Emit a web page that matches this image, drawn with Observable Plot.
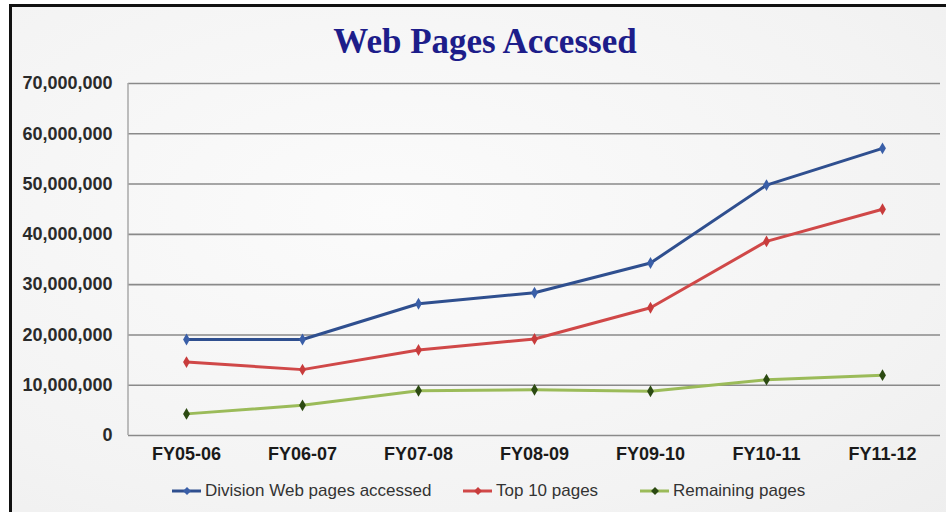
<!DOCTYPE html>
<html>
<head>
<meta charset="utf-8">
<script src="https://cdn.jsdelivr.net/npm/d3@7"></script>
<script src="https://cdn.jsdelivr.net/npm/@observablehq/plot@0.6"></script>
<style>
  html, body { margin: 0; padding: 0; background: #ffffff; }
  #wrap { position: relative; width: 946px; height: 512px; overflow: hidden; background: #ffffff; }
  #panel { position: absolute; left: 9px; top: 4px; width: 940px; height: 512px;
           border-left: 3px solid #111; border-top: 3px solid #111;
           background: radial-gradient(ellipse at 40% 40%, #fbfbfb 0%, #f3f3f3 70%, #eeeeee 100%); }
  #title { position: absolute; left: 0; width: 970px; top: 22px; text-align: center;
           font-family: "Liberation Serif", "Times New Roman", serif; font-weight: bold;
           font-size: 35px; color: #1d1d8a; }
  #chart { position: absolute; left: 0; top: 0; }
  #legend { position: absolute; top: 481px; left: 0; width: 946px; height: 22px;
            font-family: "Liberation Sans", Arial, sans-serif; font-size: 17px; color: #333; }
  .item { position: absolute; display: flex; align-items: center; white-space: nowrap; }
  .item svg { margin-right: 3px; }
</style>
</head>
<body>
<div id="wrap">
  <div id="panel"></div>
  <div id="chart"></div>
  <div id="title">Web Pages Accessed</div>
  <div id="legend"></div>
</div>
<script>
const categories = ["FY05-06", "FY06-07", "FY07-08", "FY08-09", "FY09-10", "FY10-11", "FY11-12"];
const division = [19100000, 19100000, 26200000, 28400000, 34300000, 49800000, 57100000];
const top10 = [14600000, 13100000, 17000000, 19200000, 25400000, 38600000, 45000000];
const remaining = [4300000, 6000000, 8900000, 9100000, 8800000, 11100000, 12000000];
const seriesNames = ["Division Web pages accessed", "Top 10 pages", "Remaining pages"];
const seriesColors = ["#2f4f8f", "#d04848", "#9bbb59"];
const markerColors = ["#3a5fa8", "#c83c3c", "#2c4a12"];
const yTicks = [0, 10000000, 20000000, 30000000, 40000000, 50000000, 60000000, 70000000];

const seriesValues = [division, top10, remaining];
const rows = [];
seriesNames.forEach((name, s) => {
  categories.forEach((c, i) => rows.push({series: name, cat: c, value: seriesValues[s][i]}));
});

const fmt = d3.format(",");

const leftLine = (index, scales, values, dims) => {
  const g = d3.create("svg:line")
    .attr("x1", dims.marginLeft).attr("x2", dims.marginLeft)
    .attr("y1", dims.marginTop).attr("y2", dims.height - dims.marginBottom)
    .attr("stroke", "#a8a8a8").attr("stroke-width", 1.5);
  return g.node();
};

const chart = Plot.plot({
  width: 946,
  height: 470,
  marginLeft: 128,
  marginRight: 6,
  marginTop: 83,
  marginBottom: 35,
  style: { background: "transparent", fontFamily: "Liberation Sans, Arial, sans-serif" },
  x: { type: "point", domain: categories, padding: 0.5, label: null },
  y: { domain: [0, 70000000], label: null },
  color: { domain: seriesNames, range: seriesColors },
  marks: [
    Plot.ruleY(yTicks, { stroke: "#8a8a8a", strokeWidth: 1.6 }),
    leftLine,
    Plot.axisY(yTicks, { tickSize: 0, tickPadding: 16, tickFormat: fmt, fontSize: 18, fontWeight: "bold", fill: "#2a2a2a" }),
    Plot.axisX({ tickSize: 0, tickPadding: 12, fontSize: 18, fontWeight: "bold", fill: "#1a1a1a" }),
    Plot.line(rows, { x: "cat", y: "value", z: "series", stroke: "series", strokeWidth: 3 }),
    Plot.dot(rows, { x: "cat", y: "value", symbol: "diamond", r: 3.6,
      fill: d => markerColors[seriesNames.indexOf(d.series)], stroke: "none" })
  ]
});
document.getElementById("chart").appendChild(chart);

// Legend
const legend = document.getElementById("legend");
const legendX = [172, 463, 640];
seriesNames.forEach((name, i) => {
  const item = document.createElement("div");
  item.className = "item";
  item.style.left = legendX[i] + "px";
  const sw = d3.create("svg").attr("width", 30).attr("height", 20);
  sw.append("line").attr("x1", 0).attr("x2", 29).attr("y1", 10).attr("y2", 10)
    .attr("stroke", seriesColors[i]).attr("stroke-width", 3);
  sw.append("path").attr("d", d3.symbol(d3.symbolDiamond2, 40)()).attr("transform", "translate(15,10)")
    .attr("fill", markerColors[i]);
  item.appendChild(sw.node());
  const t = document.createElement("span");
  t.textContent = name;
  item.appendChild(t);
  legend.appendChild(item);
});
</script>
</body>
</html>
